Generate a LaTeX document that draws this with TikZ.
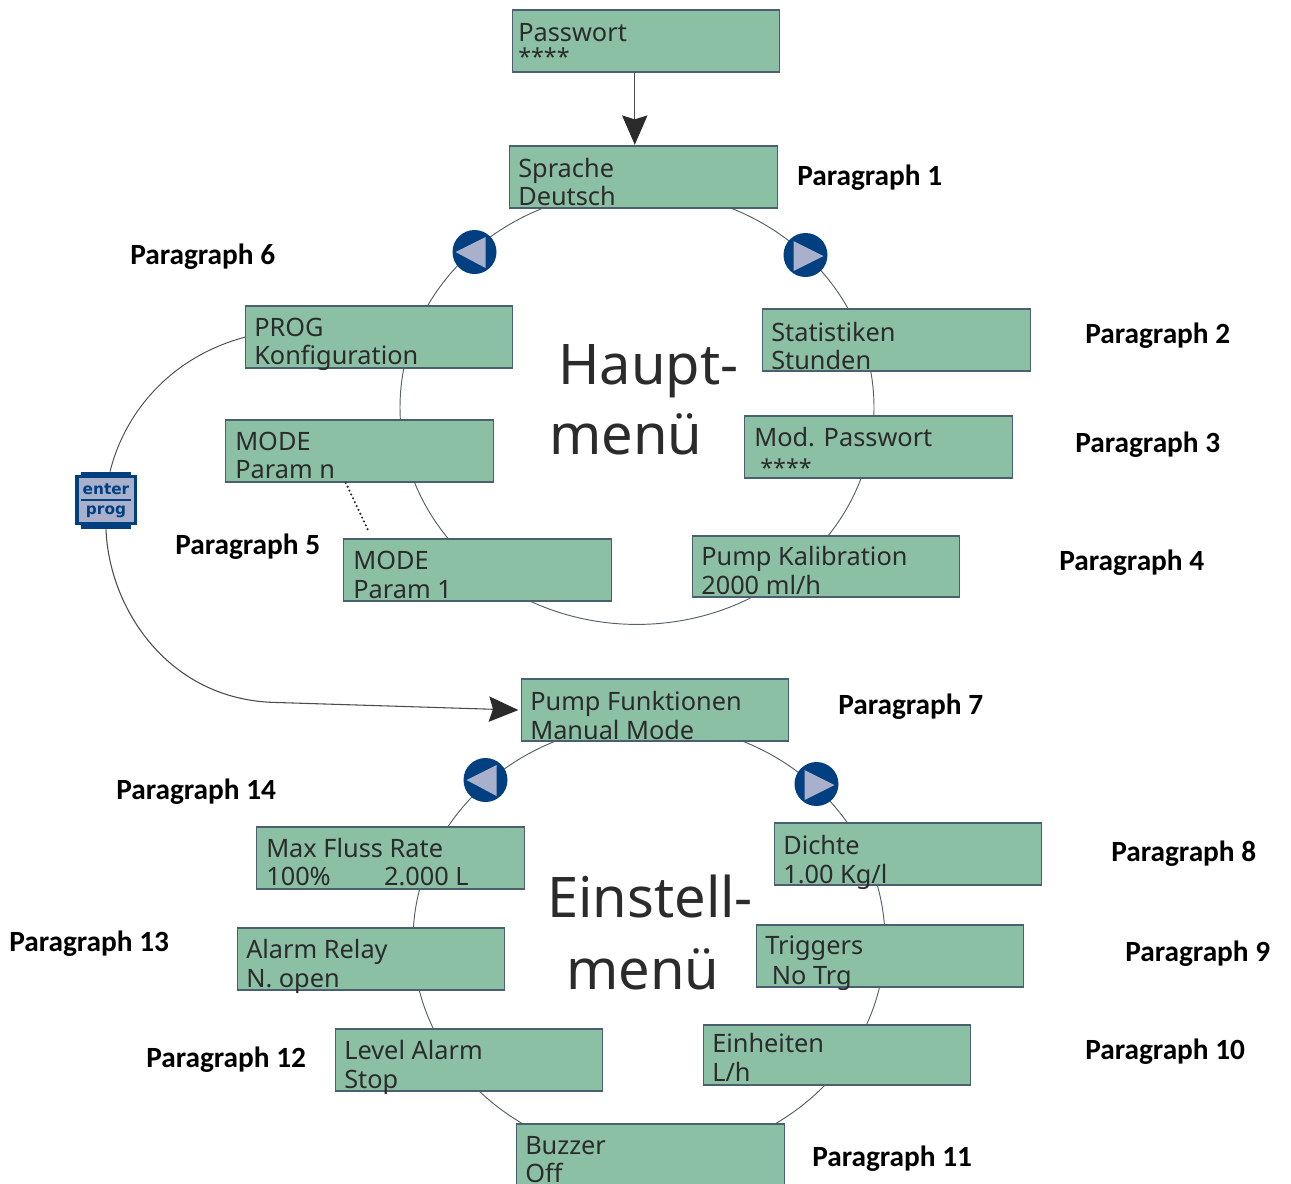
\documentclass[tikz,border=0pt]{standalone}
\usepackage{fontspec}
\setmainfont{Noto Sans}
\newfontfamily\parafont{Carlito}
\newfontfamily\keyfont{DejaVu Sans}
\usetikzlibrary{arrows.meta,shapes.geometric,calc}
\definecolor{lcdgreen}{HTML}{8CC0A5}
\definecolor{lcdedge}{HTML}{4A6070}
\definecolor{navy}{HTML}{004080}
\definecolor{pale}{HTML}{A9B0CC}
\definecolor{ink}{HTML}{2B2B2B}
\definecolor{ringcol}{HTML}{55606A}
\tikzset{
  lcd/.style={draw=lcdedge,fill=lcdgreen,line width=1.1pt,inner sep=0pt,anchor=north west},
  lcdtext/.style={anchor=base west,inner sep=0pt,text=ink,xshift=-0.75pt,yshift=-0.4pt,font=\fontsize{19}{19}\selectfont},
  paratext/.style={anchor=base west,inner sep=0pt,yshift=-0.75pt,font=\parafont\bfseries\fontsize{22}{22}\selectfont},
  bigtext/.style={anchor=base west,inner sep=0pt,text=ink,font=\fontsize{42}{42}\selectfont},
  ring/.style={ellipse,draw=ringcol,line width=0.7pt,inner sep=0pt},
  flow/.style={draw=ink!85,line width=0.7pt},
  bigarrow/.style={-{Stealth[length=22pt,width=19pt,inset=3pt,color=ink]},draw=ink!85,line width=0.8pt},
  navbtn/.style={circle,fill=navy,minimum size=33pt,inner sep=0pt},
  navtri/.style={fill=pale,draw=none},
  keytext/.style={anchor=base,inner sep=0pt,text=navy,font=\keyfont\bfseries\fontsize{11.5}{11.5}\selectfont}
}
% name, x1, y1, x2, y2, text x, baseline 1, line 1, baseline 2, line 2
\newcommand{\lcdbox}[9]{%
  \node[lcd,minimum width={(#4-#2)*0.75pt},minimum height={(#5-#3)*0.75pt}] (#1) at (#2,#3) {};
  \node[lcdtext] (#1a) at (#6,#7) {#8};
  \lcdsecond{#1}{#6}#9}
\newcommand{\lcdsecond}[4]{\node[lcdtext] (#1b) at (#2,#3) {#4};}
\newcommand{\para}[4]{\node[paratext] (#1) at (#2,#3) {#4};}
\begin{document}
\begin{tikzpicture}[x=0.75pt,y=-0.75pt]
\clip (0,0) rectangle (1291,1183);
\fill[white] (0,0) rectangle (1291,1183);
\begin{scope}[shift={(-1,-0.6)}]
% rings
\node[ring,minimum width=355.5pt,minimum height=325.5pt] (ringa) at (638,408) {};
\node[ring,minimum width=354pt,minimum height=325.5pt] (ringb) at (650,941) {};
% boxes
\lcdbox{pw}{513}{10}{780}{72}{520}{42}{Passwort}{{66}{\fontsize{17.5}{17.5}\selectfont ****}}
\lcdbox{spr}{510}{146}{778}{208}{520}{178}{Sprache}{{206}{Deutsch}}
\lcdbox{prog}{246}{306}{513}{368}{256}{337}{PROG}{{365}{Konfiguration}}
\lcdbox{stat}{763}{309}{1031}{371}{773}{342}{Statistiken}{{370}{Stunden}}
\lcdbox{moden}{226}{420}{494}{482}{237}{451}{MODE}{{479}{Param n}}
\lcdbox{modp}{745}{416}{1013}{478}{756}{447}{Mod. Passwort}{{477}{\fontsize{17.5}{17.5}\selectfont\ ****}}
\lcdbox{modea}{344}{539}{612}{601}{355}{570}{MODE}{{599}{Param 1}}
\lcdbox{kal}{693}{536}{960}{597}{703}{566}{Pump Kalibration}{{595}{2000 ml/h}}
\lcdbox{pf}{522}{679}{789}{741}{532}{711}{Pump Funktionen}{{740}{Manual Mode}}
\lcdbox{maxf}{257}{827}{525}{889}{268}{858}{Max Fluss Rate}{{886}{100\%\hspace{40pt}2.000 L}}
\lcdbox{dichte}{775}{823}{1042}{885}{785}{855}{Dichte}{{884}{1.00 Kg/l}}
\lcdbox{alarm}{238}{928}{505}{990}{248}{959}{Alarm Relay}{{988}{N. open}}
\lcdbox{trig}{757}{925}{1024}{987}{767}{955}{Triggers}{{985}{\ No Trg}}
\lcdbox{level}{336}{1029}{603}{1091}{346}{1060}{Level Alarm}{{1089}{Stop}}
\lcdbox{einh}{704}{1025}{971}{1085}{714}{1053}{Einheiten}{{1082}{L/h}}
\lcdbox{buzz}{517}{1124}{785}{1195}{527}{1155}{Buzzer}{{1183}{Off}}
% nav buttons
\node[navbtn] (bl1) at (475.5,252.6) {};
\fill[navtri] (456.5,252.6) -- (486.5,237.6) -- (486.5,268.6) -- cycle;
\node[navbtn] (br1) at (806.5,255.6) {};
\fill[navtri] (794.5,241.6) -- (824.5,256.6) -- (794.5,271.6) -- cycle;
\node[navbtn] (bl2) at (486.5,780.6) {};
\fill[navtri] (467.5,780.6) -- (497.5,765.6) -- (497.5,796.6) -- cycle;
\node[navbtn] (br2) at (817.5,784.6) {};
\fill[navtri] (805.5,770.6) -- (835.5,785.6) -- (805.5,800.6) -- cycle;
% enter / prog key
\node[fill=navy,minimum width=37.5pt,minimum height=42.75pt,inner sep=0pt] (key) at (107,501.1) {};
\fill[navy] (76,475.6) rectangle (138,525.6);
\fill[pale] (79.5,478.6) rectangle (134.5,522.1);
\draw[navy,line width=2pt] (82,500.6) -- (132,500.6);
\node[keytext] (keya) at (107,495.1) {enter};
\node[keytext] (keyb) at (107,515) {prog};
% connectors
\draw[bigarrow] ([xshift=-8.6pt]pw.south) -- ([xshift=-8.6pt,yshift=0.5pt]pw.south |- spr.north);
\draw[flow] (prog.west) .. controls (170,358) and (125,415) .. ([xshift=3pt]key.north);
\draw[bigarrow,shorten >=2pt] (key.south) .. controls (110,610) and (170,700) .. (275,703) -- (pf.west);
\coordinate (dotend) at (369,530.6);
\draw[ink,line width=1.8pt,line cap=round,dash pattern=on 0pt off 3.2pt] ([xshift=-10.5pt]moden.south) -- (dotend);
% big words
\node[bigtext] (t1) at (559,385) {Haupt-};
\node[bigtext] (t2) at (550,455) {menü};
\node[bigtext] (t3) at (548,918) {Einstell-};
\node[bigtext] (t4) at (567,990) {menü};
% labels
\para{p1}{798}{185}{Paragraph 1}
\para{p2}{1086}{343}{Paragraph 2}
\para{p3}{1076}{452}{Paragraph 3}
\para{p4}{1060}{570}{Paragraph 4}
\para{p5}{176}{554}{Paragraph 5}
\para{p6}{131}{264}{Paragraph 6}
\para{p7}{839}{714}{Paragraph 7}
\para{p8}{1112}{861}{Paragraph 8}
\para{p9}{1126}{961}{Paragraph 9}
\para{p10}{1086}{1059}{Paragraph 10}
\para{p11}{813}{1166}{Paragraph 11}
\para{p12}{147}{1067}{Paragraph 12}
\para{p13}{10}{951}{Paragraph 13}
\para{p14}{117}{799}{Paragraph 14}
\end{scope}
\end{tikzpicture}
\end{document}
